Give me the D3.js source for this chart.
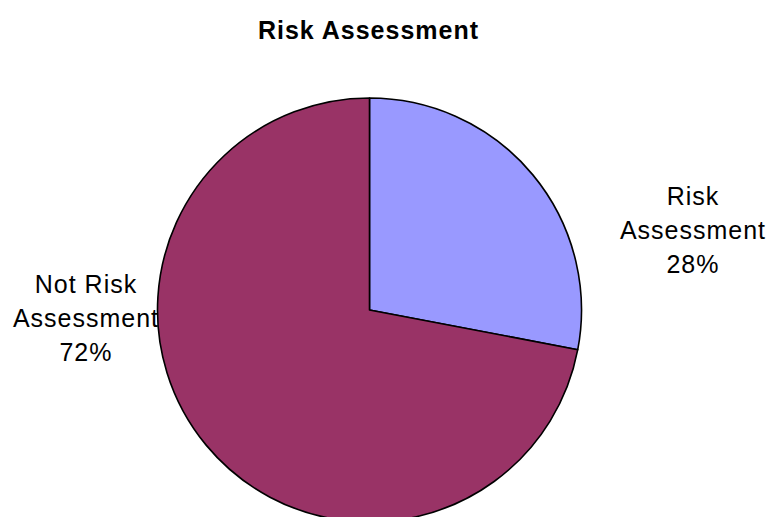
<!DOCTYPE html>
<html><head><meta charset="utf-8">
<script src="https://cdn.jsdelivr.net/npm/d3@7"></script>
<style>body{margin:0;background:#fff}svg{display:block}</style>
</head><body>
<svg id="c" width="772" height="517"></svg>
<script>
const title = "Risk Assessment";
const categories = ["Risk Assessment", "Not Risk Assessment"];
const values = [28, 72];
const colors = ["#9999FF", "#993366"];
const labelLines = [["Risk", "Assessment", "28%"], ["Not Risk", "Assessment", "72%"]];

const svg = d3.select("#c");
const cx = 369.5, cy = 310, r = 212;
const font = "Arial, 'Liberation Sans', sans-serif";

svg.append("text").attr("x", 368.5).attr("y", 39).attr("text-anchor", "middle")
  .attr("font-family", font).attr("font-weight", "bold").attr("font-size", 25)
  .attr("letter-spacing", "1px").attr("fill", "#000").text(title);

const pie = d3.pie().sort(null).value(d => d)(values);
const arc = d3.arc().innerRadius(0).outerRadius(r);
const g = svg.append("g").attr("transform", `translate(${cx},${cy})`);
g.selectAll("path").data(pie).join("path")
  .attr("d", arc).attr("fill", (d, i) => colors[i])
  .attr("stroke", "#000").attr("stroke-width", 1.6).attr("stroke-linejoin", "round");

const labelPos = [[693, 205], [86, 293]];
labelLines.forEach((lines, i) => {
  const t = svg.append("text").attr("text-anchor", "middle")
    .attr("font-family", font).attr("font-size", 25).attr("letter-spacing", "1px").attr("fill", "#000");
  lines.forEach((s, j) => {
    t.append("tspan").attr("x", labelPos[i][0]).attr("y", labelPos[i][1] + j * 34).text(s);
  });
});
</script>
</body></html>
